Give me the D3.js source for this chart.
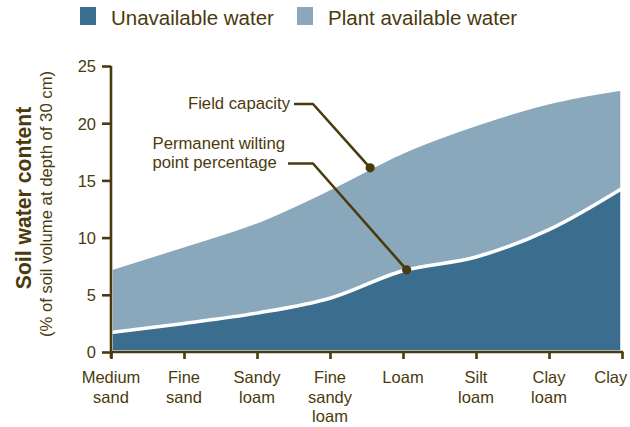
<!DOCTYPE html>
<html>
<head>
<meta charset="utf-8">
<script src="https://cdn.jsdelivr.net/npm/d3@7"></script>
<style>
  html, body { margin: 0; padding: 0; background: #fff; }
  svg { display: block; font-family: "Liberation Sans", Arial, sans-serif; }
</style>
</head>
<body>
<svg id="chart" width="630" height="427"></svg>
<script>
// Soil textures, coarse to fine
const soils = ["Medium sand", "Fine sand", "Sandy loam", "Fine sandy loam", "Loam", "Silt loam", "Clay loam", "Clay"];
// Water content at field capacity and at the permanent wilting point (% of soil volume, 30 cm depth)
const fieldCapacity = [7.3, 9.3, 11.4, 14.3, 17.5, 19.9, 21.8, 23.0];
const wiltingPoint  = [1.7, 2.5, 3.4, 4.7, 7.1, 8.3, 10.7, 14.3];
const yTicks = [0, 5, 10, 15, 20, 25];
const legendItems = ["Unavailable water", "Plant available water"];
// Callouts: label lines and the fractional soil index where each points on its curve
const callouts = [
  { lines: ["Field capacity"], series: "fc", at: 3.55 },
  { lines: ["Permanent wilting", "point percentage"], series: "wp", at: 4.05 }
];

const ink = "#4a3a0c";
const darkBlue = "#3b6d8e";
const lightBlue = "#8aa8bc";

const svg = d3.select("#chart");
const margin = { left: 111, right: 8, top: 66, bottom: 75 };
const W = 630, H = 427;

const x = d3.scalePoint().domain(d3.range(soils.length)).range([margin.left, W - margin.right]);
const xi = d3.scaleLinear().domain([0, soils.length - 1]).range([margin.left, W - margin.right]);
const y = d3.scaleLinear().domain([0, 25]).range([H - margin.bottom, margin.top]);

const rows = soils.map((s, i) => ({ i, fc: fieldCapacity[i], wp: wiltingPoint[i] }));
const curve = d3.curveMonotoneX;

// Filled areas: total water up to field capacity, then the unavailable share on top
const areaFC = d3.area().x(d => x(d.i)).y0(y(0)).y1(d => y(d.fc)).curve(curve);
const areaWP = d3.area().x(d => x(d.i)).y0(y(0)).y1(d => y(d.wp)).curve(curve);

svg.append("path").datum(rows).attr("d", areaFC)
  .attr("fill", lightBlue).attr("stroke", "#fff").attr("stroke-width", 3.5).attr("stroke-linejoin", "round");
svg.append("path").datum(rows).attr("d", areaWP)
  .attr("fill", darkBlue).attr("stroke", "#fff").attr("stroke-width", 3.5).attr("stroke-linejoin", "round");

// Hidden guide lines used to place callout dots exactly on the curves
const lineFC = d3.line().x(d => x(d.i)).y(d => y(d.fc)).curve(curve);
const lineWP = d3.line().x(d => x(d.i)).y(d => y(d.wp)).curve(curve);
const guides = {
  fc: svg.append("path").datum(rows).attr("d", lineFC).attr("fill", "none").attr("stroke", "none").node(),
  wp: svg.append("path").datum(rows).attr("d", lineWP).attr("fill", "none").attr("stroke", "none").node()
};
function pointAtX(path, px) {
  let lo = 0, hi = path.getTotalLength();
  for (let k = 0; k < 40; k++) {
    const mid = (lo + hi) / 2;
    if (path.getPointAtLength(mid).x < px) lo = mid; else hi = mid;
  }
  return path.getPointAtLength((lo + hi) / 2);
}

// Y axis
const yAxis = svg.append("g").attr("transform", `translate(${margin.left},0)`)
  .call(d3.axisLeft(y).tickValues(yTicks).tickSize(9).tickPadding(6).tickSizeOuter(0));
yAxis.select(".domain").attr("d", `M0,${y(25)}V${y(0) + 6}`);

// X axis
const xAxis = svg.append("g").attr("transform", `translate(0,${y(0)})`)
  .call(d3.axisBottom(x).tickSize(7).tickFormat("").tickSizeOuter(0));
xAxis.select(".domain").attr("d", `M${margin.left - 1},0H${W - margin.right + 1.2}`);

[yAxis, xAxis].forEach(g => {
  g.selectAll(".domain, .tick line").attr("stroke", ink).attr("stroke-width", 2.6);
  g.selectAll("text").attr("fill", ink).attr("font-size", 16.5).attr("font-family", null);
});
yAxis.selectAll(".tick text").attr("dy", "0.36em");

// Multi-line soil labels, one word per line
const xl = svg.append("g").attr("fill", ink).attr("font-size", 16.5).attr("text-anchor", "middle");
soils.forEach((s, i) => {
  const t = xl.append("text").attr("x", x(i)).attr("y", y(0) + 31);
  s.split(" ").forEach((w, k) => t.append("tspan").attr("x", x(i)).attr("dy", k ? 19.5 : 0).text(w));
  const bb = t.node().getBBox();
  if (bb.x + bb.width > W - 2) t.attr("transform", `translate(${W - 2 - (bb.x + bb.width)},0)`);
});

// Axis titles
svg.append("text").attr("transform", `translate(31,198) rotate(-90)`)
  .attr("text-anchor", "middle").attr("fill", ink).attr("font-weight", "bold").attr("font-size", 21.2)
  .text("Soil water content");
svg.append("text").attr("transform", `translate(52,204) rotate(-90)`)
  .attr("text-anchor", "middle").attr("fill", ink).attr("font-size", 16.7)
  .text("(% of soil volume at depth of 30 cm)");

// Legend
const legendColors = [darkBlue, lightBlue];
const legendX = [80, 297];
legendItems.forEach((name, k) => {
  svg.append("rect").attr("x", legendX[k]).attr("y", 7).attr("width", 16).attr("height", 18).attr("fill", legendColors[k]);
  svg.append("text").attr("x", legendX[k] + 31).attr("y", 25).attr("fill", ink).attr("font-size", 20.5).text(name);
});

// Callouts with elbow leaders
const calloutLayout = [
  { textX: 290, baseY: 109, lineY: 104, startX: 294, elbowX: 313 },
  { textX: 152.5, baseY: 149, lineY: 163.5, startX: 288, elbowX: 313 }
];
callouts.forEach((c, k) => {
  const L = calloutLayout[k];
  const t = svg.append("text").attr("fill", ink).attr("font-size", 16.7)
    .attr("text-anchor", k === 0 ? "end" : "start");
  c.lines.forEach((ln, j) => t.append("tspan").attr("x", L.textX).attr("y", L.baseY + j * 18.5).text(ln));
  const p = pointAtX(guides[c.series], xi(c.at));
  svg.append("path")
    .attr("d", `M${L.startX},${L.lineY}H${L.elbowX}L${p.x},${p.y}`)
    .attr("fill", "none").attr("stroke", ink).attr("stroke-width", 2.6).attr("stroke-linejoin", "round");
  svg.append("circle").attr("cx", p.x).attr("cy", p.y).attr("r", 4.6).attr("fill", ink);
});
</script>
</body>
</html>
